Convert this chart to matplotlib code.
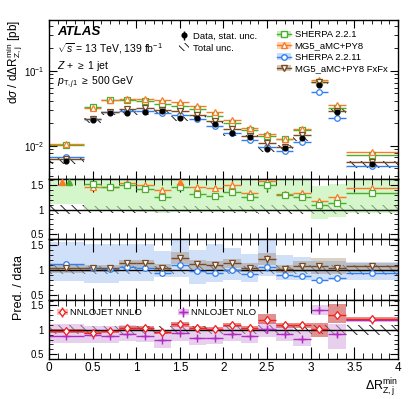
import numpy as np
import matplotlib
matplotlib.use("Agg")
import matplotlib.pyplot as plt
from matplotlib.patches import Patch
from matplotlib.ticker import MultipleLocator, FixedLocator

plt.rcParams['font.family'] = ['Liberation Sans', 'DejaVu Sans']
plt.rcParams['mathtext.fontset'] = 'custom'
plt.rcParams['mathtext.rm'] = 'Liberation Sans'
plt.rcParams['mathtext.it'] = 'Liberation Sans:italic'
plt.rcParams['mathtext.bf'] = 'Liberation Sans:bold'
plt.rcParams['hatch.linewidth'] = 0.7

# Binning in dR(Z,j) min
bin_edges = np.array([0.0, 0.4, 0.6, 0.8, 1.0, 1.2, 1.4, 1.6, 1.8, 2.0,
                      2.2, 2.4, 2.6, 2.8, 3.0, 3.2, 3.4, 4.0])

# Measured cross section [pb]
data = [0.0063, 0.0221, 0.0277, 0.0276, 0.0280, 0.0290, 0.0235, 0.0234, 0.0195,
        0.0148, 0.0131, 0.0090, 0.0094, 0.0128, 0.0650, 0.0282, 0.0057]
data_stat = [0.04, 0.03, 0.02, 0.02, 0.02, 0.02, 0.03, 0.03, 0.03,
             0.04, 0.04, 0.05, 0.05, 0.05, 0.03, 0.04, 0.05]
total_unc = [0.09, 0.08, 0.08, 0.08, 0.08, 0.08, 0.08, 0.08, 0.08,
             0.08, 0.08, 0.09, 0.09, 0.09, 0.09, 0.10, 0.10]
pred_stat = [0.03, 0.03, 0.03, 0.03, 0.03, 0.04, 0.05, 0.04, 0.04,
             0.05, 0.05, 0.07, 0.05, 0.05, 0.04, 0.05, 0.04]

# Prediction / data ratios
sherpa221 = [1.63, 1.51, 1.46, 1.49, 1.42, 1.25, 1.46, 1.31, 1.28,
             1.36, 1.26, 1.49, 1.30, 1.26, 1.09, 1.14, 1.33]
sherpa221_lo = [1.12, 0.98, 0.98, 1.00, 0.95, 0.92, 0.95, 0.95, 0.95,
                0.95, 0.94, 0.99, 0.97, 0.95, 0.80, 0.84, 0.93]
sherpa221_hi = [1.70, 1.70, 1.70, 1.70, 1.70, 1.70, 1.70, 1.70, 1.70,
                1.70, 1.70, 1.70, 1.70, 1.70, 1.47, 1.51, 1.70]
mg5 = [1.66, 1.465, 1.46, 1.535, 1.49, 1.40, 1.65, 1.465, 1.43,
       1.50, 1.33, 1.58, 1.32, 1.33, 1.17, 1.26, 1.43]

sherpa2211 = [1.12, 1.03, 1.02, 1.06, 1.03, 0.935, 1.09, 0.98, 0.935,
              0.99, 0.92, 1.06, 0.90, 0.875, 0.80, 0.84, 0.935]
sherpa2211_lo = [0.78, 0.73, 0.73, 0.78, 0.78, 0.85, 0.85, 0.71, 0.75,
                 0.79, 0.75, 0.87, 0.79, 0.79, 0.79, 0.79, 0.80]
sherpa2211_hi = [1.57, 1.52, 1.52, 1.52, 1.52, 1.37, 1.60, 1.39, 1.52,
                 1.43, 1.32, 1.60, 1.30, 1.25, 1.18, 1.18, 1.16]
fxfx = [1.045, 1.03, 1.03, 1.13, 1.13, 1.045, 1.24, 1.11, 1.09,
        1.13, 1.045, 1.22, 1.01, 1.08, 1.08, 1.04, 1.08]
fxfx_lo = [0.94, 0.95, 0.95, 1.03, 1.03, 0.96, 1.12, 1.02, 1.00,
           1.04, 0.96, 1.10, 0.93, 0.96, 0.92, 0.92, 0.95]
fxfx_hi = [1.12, 1.10, 1.10, 1.20, 1.20, 1.12, 1.35, 1.20, 1.18,
           1.22, 1.13, 1.33, 1.10, 1.18, 1.24, 1.24, 1.14]

nnlo = [0.97, 0.94, 0.97, 1.04, 1.035, 0.95, 1.12, 1.04, 1.02,
        1.10, 1.04, 1.20, 1.09, 1.10, 1.01, 1.30, 1.22]
nnlo_lo = [0.93, 0.91, 0.94, 1.00, 1.00, 0.91, 1.05, 1.00, 0.98,
           1.05, 1.00, 1.12, 1.04, 1.04, 0.85, 1.15, 1.18]
nnlo_hi = [1.01, 0.98, 1.00, 1.08, 1.07, 0.99, 1.17, 1.08, 1.06,
           1.14, 1.08, 1.33, 1.13, 1.15, 1.14, 1.52, 1.27]
nlo = [0.87, 0.885, 0.88, 0.91, 0.88, 0.80, 0.94, 0.84, 0.84,
       0.91, 0.87, 1.01, 0.92, 0.81, 1.41, 0.905, 1.20]
nlo_lo = [0.73, 0.74, 0.74, 0.77, 0.75, 0.62, 0.78, 0.69, 0.70,
          0.77, 0.73, 0.86, 0.78, 0.66, 1.31, 0.61, 1.16]
nlo_hi = [1.12, 1.08, 1.07, 1.09, 1.05, 0.96, 1.10, 1.00, 1.00,
          1.07, 1.03, 1.17, 1.08, 0.97, 1.50, 1.12, 1.23]

c_green = '#4cae2f'
c_orange = '#fb7b24'
c_blue = '#2f7ff0'
c_brown = '#7a4a22'
c_red = '#f02020'
c_purple = '#b02cc0'

centres = 0.5 * (bin_edges[:-1] + bin_edges[1:])
halfw = 0.5 * np.diff(bin_edges)
data = np.array(data)
ratio_lim = (0.4, 1.62)


def step_band(ax, lo, hi, **kw):
    lo = np.append(lo, lo[-1])
    hi = np.append(hi, hi[-1])
    return ax.fill_between(bin_edges, lo, hi, step='post', linewidth=0, **kw)


def pred_points(ax, vals, colour, marker, label=None):
    vals = np.array(vals)
    return ax.errorbar(centres, vals, xerr=halfw, yerr=np.array(pred_stat) * vals,
                       fmt=marker, color=colour, mfc='white', mec=colour, ms=4,
                       mew=0.9, lw=1, capsize=0, label=label)


# Create Figure
fig = plt.figure(figsize=(4.15, 3.99), dpi=100)
gs = fig.add_gridspec(4, 1, left=0.118, right=0.959, top=0.95, bottom=0.10,
                      height_ratios=[159, 60, 60.5, 59.5], hspace=0)
ax_main = fig.add_subplot(gs[0])
ax_r1 = fig.add_subplot(gs[1], sharex=ax_main)
ax_r2 = fig.add_subplot(gs[2], sharex=ax_main)
ax_r3 = fig.add_subplot(gs[3], sharex=ax_main)

# ---- Main panel
tot = np.array(total_unc)
step_band(ax_main, data * (1 - tot), data * (1 + tot), facecolor='none',
          edgecolor='#222222', hatch='\\\\\\')
main_series = [(sherpa221, c_green, 's'), (mg5, c_orange, '^'),
               (sherpa2211, c_blue, 'o'), (fxfx, c_brown, 'v')]
for vals, colour, marker in main_series:
    pred_points(ax_main, data * np.array(vals), colour, marker)
h_data = ax_main.errorbar(centres, data, yerr=np.array(data_stat) * data, fmt='o',
                          color='black', ms=3.4, lw=1, capsize=0, zorder=4,
                          label='Data, stat. unc.')
ax_main.set_yscale('log')
ax_main.set_ylim(0.0036, 0.48)
ax_main.set_xlim(0, 4)
ax_main.set_ylabel(r'd$\sigma$ / d$\Delta$R$^{\mathrm{min}}_{\mathrm{Z,j}}$ [pb]',
                   fontsize=8.5, ha='right', va='center')
ax_main.yaxis.set_label_coords(-0.097, 1.0)

ax_main.text(0.023, 0.965, 'ATLAS', transform=ax_main.transAxes, fontsize=9.5,
             fontweight='bold', fontstyle='italic', va='top')
ax_main.text(0.023, 0.865, r'$\sqrt{s}$ = 13 TeV, 139 fb$^{-1}$',
             transform=ax_main.transAxes, fontsize=7.5, va='top')
ax_main.text(0.023, 0.755, r'$Z$ + $\geq$ 1 jet',
             transform=ax_main.transAxes, fontsize=7.5, va='top')
ax_main.text(0.023, 0.655, r'$p_{\mathrm{T},j1}$ $\geq$ 500 GeV',
             transform=ax_main.transAxes, fontsize=7.5, va='top')

h_tot = Patch(facecolor='none', edgecolor='#222222', hatch='\\\\\\\\', linewidth=0)
leg1 = ax_main.legend([h_data, h_tot], ['Data, stat. unc.', 'Total unc.'],
                      loc='upper left', bbox_to_anchor=(0.36, 0.955), frameon=False,
                      fontsize=6.8, handlelength=1.0, handleheight=0.9,
                      handletextpad=0.4, labelspacing=0.25, borderpad=0)
ax_main.add_artist(leg1)

leg_handles = []
leg_labels = ['SHERPA 2.2.1', 'MG5_aMC+PY8', 'SHERPA 2.2.11', 'MG5_aMC+PY8 FxFx']
band_cols = ['#c8f0b8', '#fcd3b4', '#c6dcfa', '#d8c8b8']
for (vals, colour, marker), bc in zip(main_series, band_cols):
    ln = plt.Line2D([], [], color=colour, marker=marker, mfc='white', mec=colour,
                    ms=4, lw=1)
    leg_handles.append((Patch(facecolor=bc, edgecolor='none'), ln))
ax_main.legend(leg_handles, leg_labels, loc='upper left', bbox_to_anchor=(0.64, 0.965),
               frameon=False, fontsize=6.8, handlelength=1.5, handletextpad=0.35,
               labelspacing=0.25, borderpad=0)

# ---- Ratio panel 1: SHERPA 2.2.1 and MG5_aMC+PY8
for ax in (ax_r1, ax_r2, ax_r3):
    step_band(ax, 1 - tot, 1 + tot, facecolor='none', edgecolor='#222222',
              hatch='\\\\\\')
    ax.axhline(1, color='black', lw=1, zorder=1.5)

step_band(ax_r1, sherpa221_lo, sherpa221_hi, facecolor='#b8f0a8', alpha=0.6)
pred_points(ax_r1, np.where(np.array(mg5) < 1.6, mg5, np.nan), c_orange, '^')
pred_points(ax_r1, np.where(np.array(sherpa221) < 1.6, sherpa221, np.nan), c_green, 's')
# off-scale predictions drawn as filled triangles at the top edge
for i in range(len(centres)):
    off = [c for v, c in ((mg5[i], c_orange), (sherpa221[i], c_green)) if v >= 1.6]
    shifts = [0.0] if len(off) == 1 else [-0.045, 0.035]
    for c, s in zip(off, shifts):
        ax_r1.plot(centres[i] + s, 1.55, marker='^', color=c, ms=4.5, ls='none',
                   zorder=5)

# ---- Ratio panel 2: SHERPA 2.2.11 and FxFx
step_band(ax_r2, sherpa2211_lo, sherpa2211_hi, facecolor='#a8c8f4', alpha=0.55)
step_band(ax_r2, fxfx_lo, fxfx_hi, facecolor='#8a6a48', alpha=0.3)
pred_points(ax_r2, sherpa2211, c_blue, 'o')
pred_points(ax_r2, fxfx, c_brown, 'v')
ax_r2.set_ylabel('Pred. / data', fontsize=9, va='center')
ax_r2.yaxis.set_label_coords(-0.086, 0.2)

# ---- Ratio panel 3: NNLOJET
step_band(ax_r3, nlo_lo, nlo_hi, facecolor='#d8a8e0', alpha=0.55)
step_band(ax_r3, nnlo_lo, nnlo_hi, facecolor='#d04848', alpha=0.6)
h_nlo = ax_r3.errorbar(centres, nlo, xerr=halfw, yerr=np.array(pred_stat) * np.array(nlo),
                       fmt='+', color=c_purple, ms=6, mew=1, lw=1, capsize=0)
h_nnlo = ax_r3.errorbar(centres, nnlo, xerr=halfw, yerr=np.array(pred_stat) * np.array(nnlo),
                        fmt='d', color=c_red, mfc='white', mec=c_red, ms=4.5, mew=0.9,
                        lw=1, capsize=0)
ax_r3.legend([(Patch(facecolor='#f8c0c0', edgecolor='none'), h_nnlo),
              (Patch(facecolor='#e8c0f0', edgecolor='none'), h_nlo)],
             ['NNLOJET NNLO', 'NNLOJET NLO'], ncol=2, loc='center left',
             bbox_to_anchor=(0.01, 0.78), frameon=False, fontsize=6.8,
             handlelength=1.1, handletextpad=0.3, columnspacing=3.8, borderpad=0)

# ---- Axes styling
for ax in (ax_main, ax_r1, ax_r2, ax_r3):
    ax.tick_params(which='both', direction='in', top=True, right=True, labelsize=7)
    ax.xaxis.set_major_locator(MultipleLocator(0.5))
    ax.xaxis.set_minor_locator(MultipleLocator(0.1))
    for s in ax.spines.values():
        s.set_linewidth(1.0)
ax_main.tick_params(which='major', length=6)
ax_main.tick_params(which='minor', length=3)
for ax in (ax_r1, ax_r2, ax_r3):
    ax.set_ylim(*ratio_lim)
    ax.yaxis.set_major_locator(FixedLocator([0.5, 1.0, 1.5]))
    ax.yaxis.set_minor_locator(MultipleLocator(0.1))
    ax.set_yticklabels(['0.5', '1', '1.5'])
    ax.tick_params(axis='x', which='major', length=9)
    ax.tick_params(axis='x', which='minor', length=4)
    ax.tick_params(axis='y', which='major', length=6)
    ax.tick_params(axis='y', which='minor', length=3)
for ax in (ax_main, ax_r1, ax_r2):
    plt.setp(ax.get_xticklabels(), visible=False)
ax_r3.set_xticks(np.arange(0, 4.01, 0.5))
ax_r3.set_xticklabels(['0', '0.5', '1', '1.5', '2', '2.5', '3', '3.5', '4'])
ax_r3.tick_params(axis='x', labelsize=8.5, pad=2)
ax_r3.set_xlim(0, 4)

fig.text(0.959, 0.022, r'$\Delta$R$^{\mathrm{min}}_{\mathrm{Z,j}}$', ha='right',
         va='baseline', fontsize=9)

fig.savefig('out.png', dpi=100)
